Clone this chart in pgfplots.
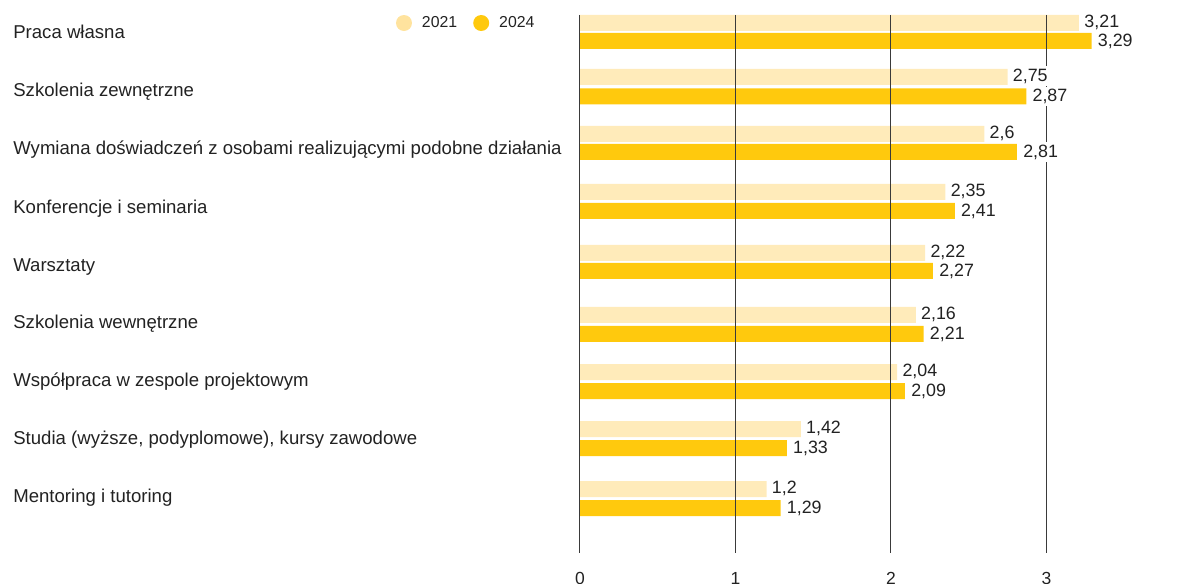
\documentclass[border=0pt]{standalone}
\usepackage{pgfplots}
\pgfplotsset{compat=1.18}
\usepackage{fontspec}
\setmainfont{Liberation Sans}
\definecolor{light}{HTML}{FFEBBA}
\definecolor{lightleg}{HTML}{FFE39E}
\definecolor{gold}{HTML}{FFC90D}
\definecolor{gridc}{HTML}{3A3A3A}
\definecolor{txt}{HTML}{222222}
% category positions (top to bottom, in reference pixels)
\pgfplotstableread{
x2021 y2021 x2024 y2024
3.21 23    3.29 41
2.75 77    2.87 96.5
2.6  134   2.81 152
2.35 192   2.41 211
2.22 253   2.27 271
2.16 315   2.21 334
2.04 372   2.09 391
1.42 429   1.33 448
1.2  489   1.29 508
}\data
\begin{document}
\begin{tikzpicture}
\begin{axis}[
  name=ax,
  scale only axis,
  width=373.2pt, height=322.8pt,
  xmin=0, xmax=4, ymin=15, ymax=553,
  y dir=reverse,
  axis line style={draw=none},
  major tick length=0pt,
  xtick={0,1,2,3,4},
  ytick={32,90,148,207,265,322,380,438,496},
  yticklabels={Praca własna, Szkolenia zewnętrzne, Wymiana doświadczeń z osobami realizującymi podobne działania, Konferencje i seminaria, Warsztaty, Szkolenia wewnętrzne, Współpraca w zespole projektowym, {Studia (wyższe, podyplomowe), kursy zawodowe}, Mentoring i tutoring},
  yticklabel style={anchor=base west, inner sep=0pt, xshift=-340.2pt, yshift=-3.9pt, font=\fontsize{11.15}{13}\selectfont, text=txt},
  xticklabel style={anchor=center, yshift=-15pt, font=\fontsize{10.5}{12}\selectfont, text=txt},
  /pgf/number format/assume math mode=true,
  /pgf/number format/use comma,
  bar width=9.6pt,
  bar shift=0pt,
  clip=false,
  legend style={at={(-0.2958,0.9851)}, anchor=west, draw=none, fill=none, inner sep=0pt, outer sep=0pt,
    legend columns=2, font=\fontsize{9.5}{11}\selectfont, text=txt,
    nodes={inner sep=0pt},
    /tikz/every odd column/.append style={column sep=6pt},
    /tikz/every even column/.append style={column sep=9.6pt}},
  legend image code/.code={\fill[#1] (4.8pt,0pt) circle (4.8pt);},
]
\addlegendimage{fill=lightleg, draw=none}
\addlegendentry{2021}
\addlegendimage{fill=gold, draw=none}
\addlegendentry{2024}
% bars
\addplot[xbar, bar shift=0pt, fill=light, draw=none, forget plot] table[x=x2021, y=y2021] {\data};
\addplot[xbar, bar shift=0pt, fill=gold, draw=none, forget plot] table[x=x2024, y=y2024] {\data};
% grid lines
\addplot[gridc, line width=0.6pt, mark=none, forget plot] coordinates {(0,15) (0,553)};
\addplot[gridc, line width=0.6pt, mark=none, forget plot] coordinates {(1,15) (1,553)};
\addplot[gridc, line width=0.6pt, mark=none, forget plot] coordinates {(2,15) (2,553)};
\addplot[gridc, line width=0.6pt, mark=none, forget plot] coordinates {(3,15) (3,553)};
\addplot[gridc, line width=0.6pt, mark=none, forget plot] coordinates {(4,15) (4,553)};
% value labels
\addplot[xbar, bar shift=0pt, draw=none, fill=none, forget plot, point meta=x,
  nodes near coords, every node near coord/.append style={anchor=west, fill=white, inner xsep=3pt, inner ysep=1.5pt, xshift=0pt, yshift=0.6pt, font=\fontsize{10.7}{12}\selectfont, text=txt}] table[x=x2021, y=y2021] {\data};
\addplot[xbar, bar shift=0pt, draw=none, fill=none, forget plot, point meta=x,
  nodes near coords, every node near coord/.append style={anchor=west, fill=white, inner xsep=3pt, inner ysep=1.5pt, xshift=0.6pt, yshift=0pt, font=\fontsize{10.7}{12}\selectfont, text=txt}] table[x=x2024, y=y2024] {\data};
\end{axis}
\pgfresetboundingbox
\path[use as bounding box] ([shift={(-348pt,-18.6pt)}]ax.south west) rectangle ([shift={(364.2pt,331.8pt)}]ax.south west);
\end{tikzpicture}
\end{document}
